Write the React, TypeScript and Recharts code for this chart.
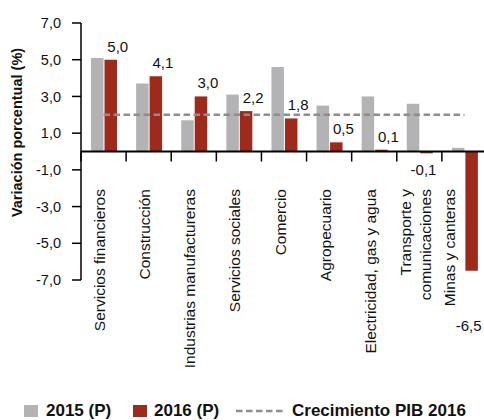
import React from 'react';
import { ComposedChart, Bar, Line, XAxis, YAxis, ReferenceLine, LabelList } from 'recharts';

const categories = [
  'Servicios financieros',
  'Construcción',
  'Industrias manufactureras',
  'Servicios sociales',
  'Comercio',
  'Agropecuario',
  'Electricidad, gas y agua',
  'Transporte y\ncomunicaciones',
  'Minas y canteras',
];
const values2015 = [5.1, 3.7, 1.7, 3.1, 4.6, 2.5, 3.0, 2.6, 0.2];
const values2016 = [5.0, 4.1, 3.0, 2.2, 1.8, 0.5, 0.1, -0.1, -6.5];
const pib2016 = 2.0;
const yTicks = [-7, -5, -3, -1, 1, 3, 5, 7];
const seriesNames = ['2015 (P)', '2016 (P)', 'Crecimiento PIB 2016'];
const yLabel = 'Variación porcentual (%)';

const data = categories.map((name, i) => ({
  name,
  v2015: values2015[i],
  v2016: values2016[i],
  pib: pib2016,
}));

const FONT = '"Liberation Sans", Arial, Helvetica, sans-serif';
const GRAY = '#b3b3b5';
const RED = '#9e2a1c';
const LINE = '#8e8e8e';
const TEXT = '#111';

const CHART_W = 490;
const CHART_H = 420;
const MARGIN = { top: 23, right: 3, left: 0, bottom: 0 };
const Y_AXIS_W = 81;
const X_AXIS_H = 140;
const PLOT_TOP = MARGIN.top;
const PLOT_BOTTOM = CHART_H - MARGIN.bottom - X_AXIS_H;
const ZERO_Y = (PLOT_TOP + PLOT_BOTTOM) / 2; // domain is symmetric [-7, 7]
const BAND = (CHART_W - MARGIN.left - Y_AXIS_W - MARGIN.right) / categories.length;

const fmt = (v: number) => v.toFixed(1).replace('.', ',');

function CategoryTick(props: any) {
  const { x, payload, index } = props;
  const lines = String(payload.value).split('\n');
  const shift = index === categories.length - 1 ? -9 : 1.5;
  const top = ZERO_Y + 37.5;
  const lh = 20;
  const bx = x - BAND / 2;
  return (
    <g>
      <line x1={bx} y1={ZERO_Y} x2={bx} y2={ZERO_Y + 10} stroke="#000" strokeWidth={1.5} />
      {lines.map((ln, j) => {
        const tx = x + shift + (j - (lines.length - 1) / 2) * lh;
        return (
          <text
            key={j}
            x={tx}
            y={top}
            transform={`rotate(-90, ${tx}, ${top})`}
            textAnchor="end"
            fontSize={15.5}
            fontFamily={FONT}
            fill={TEXT}
          >
            {ln}
          </text>
        );
      })}
    </g>
  );
}

const renderYLabel = (props: any) => {
  const vb = props.viewBox || { x: 0, y: PLOT_TOP, width: Y_AXIS_W, height: PLOT_BOTTOM - PLOT_TOP };
  const x = vb.x + 22;
  const y = vb.y + vb.height / 2 - 19;
  return (
    <text
      x={x}
      y={y}
      transform={`rotate(-90, ${x}, ${y})`}
      textAnchor="middle"
      fontSize={14.5}
      fontWeight="bold"
      fontFamily={FONT}
      fill={TEXT}
    >
      {yLabel}
    </text>
  );
};

const renderValueLabel = (props: any) => {
  const { x, y, width, height, value } = props;
  const v = Number(value);
  const top = Math.min(y, y + height);
  const bottom = Math.max(y, y + height);
  const cx = x + width / 2;
  if (v >= 0) {
    return (
      <text x={cx + 7} y={top - 8} textAnchor="middle" fontSize={15} fontFamily={FONT} fill={TEXT}>
        {fmt(v)}
      </text>
    );
  }
  const drop = v < -1 ? 60 : 22;
  return (
    <text x={cx - 3} y={bottom + drop} textAnchor="middle" fontSize={15} fontFamily={FONT} fill={TEXT}>
      {fmt(v)}
    </text>
  );
};

function LegendBlock() {
  const textStyle: React.CSSProperties = {
    position: 'absolute',
    top: 411,
    transform: 'translateY(-50%)',
    fontFamily: FONT,
    fontWeight: 'bold',
    fontSize: 17,
    color: TEXT,
    whiteSpace: 'nowrap',
    lineHeight: '20px',
  };
  const sq = (left: number, color: string): React.CSSProperties => ({
    position: 'absolute',
    left,
    top: 405,
    width: 14,
    height: 12,
    background: color,
  });
  return (
    <>
      <div style={sq(24, GRAY)} />
      <div style={{ ...textStyle, left: 46 }}>{seriesNames[0]}</div>
      <div style={sq(133, RED)} />
      <div style={{ ...textStyle, left: 154 }}>{seriesNames[1]}</div>
      <svg style={{ position: 'absolute', left: 236, top: 406 }} width={50} height={10}>
        <line x1={0} y1={5} x2={49} y2={5} stroke={LINE} strokeWidth={2.5} strokeDasharray="6.5 3.5" />
      </svg>
      <div style={{ ...textStyle, left: 292 }}>{seriesNames[2]}</div>
    </>
  );
}

export default function App() {
  return (
    <div
      style={{
        position: 'absolute',
        left: 0,
        top: 0,
        width: 484,
        height: 420,
        overflow: 'hidden',
        background: '#fff',
      }}
    >
      <ComposedChart
        width={CHART_W}
        height={CHART_H}
        data={data}
        margin={MARGIN}
        barSize={12.5}
        barGap={1}
      >
        <XAxis
          dataKey="name"
          height={X_AXIS_H}
          axisLine={false}
          tickLine={false}
          interval={0}
          tick={<CategoryTick />}
        />
        <YAxis
          width={Y_AXIS_W}
          domain={[-7, 7]}
          ticks={yTicks}
          type="number"
          allowDataOverflow
          tickFormatter={fmt}
          tickSize={9}
          tickMargin={11}
          axisLine={{ stroke: '#000', strokeWidth: 1.5 }}
          tickLine={{ stroke: '#000', strokeWidth: 1.5 }}
          tick={{ fontSize: 14.5, fill: TEXT, fontFamily: FONT }}
          label={renderYLabel}
        />
        <Bar dataKey="v2015" name={seriesNames[0]} fill={GRAY} isAnimationActive={false} />
        <Bar dataKey="v2016" name={seriesNames[1]} fill={RED} isAnimationActive={false}>
          <LabelList dataKey="v2016" content={renderValueLabel} />
        </Bar>
        <Line
          dataKey="pib"
          name={seriesNames[2]}
          stroke={LINE}
          strokeWidth={2.5}
          strokeDasharray="6.5 3.5"
          dot={false}
          activeDot={false}
          isAnimationActive={false}
        />
        <ReferenceLine y={0} stroke="#000" strokeWidth={2} />
      </ComposedChart>
      <LegendBlock />
    </div>
  );
}
